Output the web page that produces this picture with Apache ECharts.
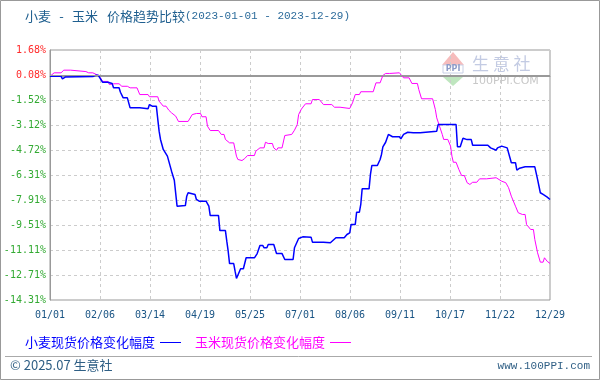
<!DOCTYPE html>
<html>
<head>
<meta charset="utf-8">
<script src="https://cdn.jsdelivr.net/npm/echarts@6/dist/echarts.min.js"></script>
<style>
html,body{margin:0;padding:0;background:#fff;}
#chart{width:600px;height:380px;}
</style>
</head>
<body>
<div id="chart"></div>
<script>
// x: day offset from 2023-01-01, y: price change (%)
const xTickLabels = ['01/01','02/06','03/14','04/19','05/25','07/01','08/06','09/11','10/17','11/22','12/29'];
const yTickValues = [1.68, 0.08, -1.52, -3.12, -4.72, -6.31, -7.91, -9.51, -11.11, -12.71, -14.31];
const seriesNames = ['小麦现货价格变化幅度', '玉米现货价格变化幅度'];

const wheat = [
  [0,0.00],[8,0.00],[9,-0.16],[11,-0.05],[31,-0.02],[33,0.06],[35,0.06],[38,-0.38],[42,-0.38],
  [43,-0.46],[45,-0.46],[46,-0.74],[50,-0.74],[51,-1.02],[52,-1.02],[53,-1.38],[56,-1.38],
  [58,-2.02],[65,-2.02],[66,-2.08],[71,-2.08],[72,-1.81],[73,-1.87],[74,-1.91],[77,-1.91],
  [78,-2.72],[79,-3.51],[80,-4.04],[81,-4.36],[82,-4.68],[83,-4.75],[85,-5.11],[86,-5.43],
  [87,-5.53],[88,-6.07],[90,-6.65],[91,-6.70],[92,-8.31],[98,-8.27],[99,-7.67],[100,-7.45],
  [101,-7.56],[105,-7.56],[106,-7.88],[108,-7.99],[113,-7.99],[115,-8.31],[116,-8.91],[122,-8.91],
  [123,-9.87],[127,-9.87],[128,-10.55],[129,-11.19],[130,-11.98],[133,-11.98],[134,-12.47],
  [135,-12.93],[136,-12.83],[138,-12.31],[140,-12.31],[142,-11.61],[148,-11.61],[150,-11.34],
  [152,-10.82],[154,-10.82],[155,-10.97],[157,-10.97],[158,-10.76],[162,-10.76],[164,-11.34],
  [168,-11.34],[170,-11.72],[176,-11.72],[177,-10.97],[180,-10.38],[183,-10.27],[189,-10.29],
  [190,-10.61],[198,-10.61],[203,-10.65],[207,-10.33],[213,-10.33],[215,-10.12],[217,-10.01],
  [218,-9.48],[221,-9.48],[222,-8.69],[224,-8.69],[225,-8.20],[226,-7.20],[231,-7.20],
  [232,-6.28],[233,-5.71],[237,-5.71],[239,-5.32],[240,-5.00],[241,-4.51],[243,-4.22],
  [245,-3.72],[246,-3.68],[248,-3.87],[253,-3.87],[254,-4.00],[256,-3.72],[259,-3.58],
  [263,-3.62],[268,-3.62],[269,-3.55],[280,-3.51],[281,-3.09],[294,-3.09],[295,-4.51],
  [297,-4.51],[299,-3.96],[302,-4.05],[305,-4.05],[306,-4.41],[317,-4.41],[319,-4.58],
  [323,-4.73],[324,-4.58],[327,-4.47],[331,-4.58],[333,-5.21],[334,-5.53],[337,-5.53],
  [338,-6.01],[340,-5.88],[344,-5.79],[351,-5.79],[353,-6.60],[355,-7.45],[357,-7.56],
  [360,-7.73],[362,-7.88]
];

const corn = [
  [0,0.00],[3,0.22],[8,0.22],[10,0.39],[15,0.39],[16,0.30],[26,0.30],[28,0.22],[31,0.22],
  [32,0.11],[35,0.05],[37,-0.16],[38,-0.33],[42,-0.33],[43,-0.53],[46,-0.48],[50,-0.48],
  [52,-0.64],[56,-0.64],[58,-0.74],[63,-0.74],[65,-1.17],[71,-1.17],[72,-1.31],[78,-1.31],
  [79,-1.59],[82,-1.91],[84,-1.91],[86,-2.17],[88,-2.34],[91,-2.55],[92,-2.72],[93,-2.89],
  [100,-2.89],[103,-2.45],[106,-2.38],[109,-2.38],[110,-2.59],[113,-2.59],[114,-3.19],
  [116,-3.47],[122,-3.47],[124,-3.72],[126,-3.72],[127,-4.04],[130,-4.26],[133,-4.26],
  [135,-5.11],[136,-5.32],[139,-5.39],[141,-5.26],[143,-5.07],[148,-5.07],[149,-4.79],
  [152,-4.58],[155,-4.58],[156,-4.22],[158,-4.30],[161,-4.30],[162,-4.58],[164,-4.73],
  [165,-4.58],[168,-4.58],[170,-3.79],[171,-3.72],[175,-3.72],[177,-3.45],[179,-3.09],
  [180,-2.45],[182,-2.10],[185,-1.76],[189,-1.76],[190,-1.49],[195,-1.49],[198,-1.81],
  [204,-1.81],[206,-1.98],[210,-1.98],[211,-2.06],[217,-2.06],[219,-1.70],[221,-1.17],
  [224,-1.17],[225,-0.99],[234,-0.99],[236,-0.42],[239,-0.42],[241,0.05],[243,0.18],
  [246,0.18],[247,0.22],[253,0.22],[256,-0.10],[260,-0.10],[262,-0.46],[266,-0.46],
  [267,-0.85],[269,-1.44],[277,-1.44],[279,-2.13],[280,-2.66],[282,-3.19],[284,-3.72],
  [285,-4.04],[288,-4.04],[290,-4.47],[291,-5.11],[292,-5.50],[294,-5.50],[296,-5.96],
  [298,-6.35],[300,-6.35],[302,-6.81],[304,-6.92],[306,-6.78],[309,-6.78],[311,-6.56],
  [316,-6.56],[317,-6.49],[323,-6.49],[324,-6.60],[327,-6.71],[330,-6.81],[332,-7.13],
  [334,-7.67],[337,-8.31],[339,-8.73],[342,-8.84],[344,-8.84],[345,-9.48],[348,-9.80],
  [350,-9.80],[351,-10.44],[353,-11.29],[355,-11.89],[357,-11.89],[358,-11.61],[360,-11.84],
  [362,-11.97]
];

const xStep = 36.2;
const chart = echarts.init(document.getElementById('chart'), null, {renderer: 'canvas'});
const monoFont = "'DejaVu Sans Mono', 'Liberation Mono', monospace";
const cjkFont = "'Noto Sans CJK SC', sans-serif";
const titleColor = '#1f5f8f';

chart.setOption({
  animation: false,
  backgroundColor: '#ffffff',
  title: {
    left: 20, top: 2,
    text: '{a|小麦}{s|-}{a|玉米}{g|}{a|价格趋势比较}{b|(2023-01-01 - 2023-12-29)}',
    textStyle: {
      fontWeight: 'normal',
      rich: {
        a: {fontFamily: cjkFont, fontSize: 13, fontWeight: 'normal', color: titleColor},
        s: {fontFamily: cjkFont, fontSize: 13, fontWeight: 'normal', color: titleColor, width: 21, align: 'center'},
        g: {width: 9},
        b: {fontFamily: "'Liberation Mono', monospace", fontSize: 11, fontWeight: 'normal', color: '#2a6a9a'}
      }
    }
  },
  legend: {
    left: 20, top: 331,
    align: 'right',
    itemGap: 14,
    itemWidth: 21, itemHeight: 1,
    icon: 'rect',
    textStyle: {fontFamily: cjkFont, fontSize: 13},
    data: [
      {name: seriesNames[0], textStyle: {color: '#0000ff'}},
      {name: seriesNames[1], textStyle: {color: '#ff00ff'}}
    ]
  },
  grid: {left: 50, right: 50, top: 50, bottom: 80, show: true, borderColor: '#999', borderWidth: 1, containLabel: false},
  xAxis: {
    type: 'value', min: 0, max: 362, interval: xStep,
    axisLine: {show: true, lineStyle: {color: '#999'}},
    axisTick: {show: false},
    splitLine: {show: true, lineStyle: {color: '#ccc', type: [3, 3]}},
    axisLabel: {
      margin: 10, color: '#1a5585', fontFamily: monoFont, fontSize: 10,
      formatter: v => xTickLabels[Math.round(v / xStep)] || ''
    }
  },
  yAxis: {
    type: 'value', min: -14.31, max: 1.68,
    axisLine: {show: true, lineStyle: {color: '#999'}},
    axisTick: {show: false, customValues: yTickValues},
    splitLine: {show: true, lineStyle: {color: '#ccc', type: [3, 3]}},
    axisLabel: {
      customValues: yTickValues,
      margin: 4, fontFamily: monoFont, fontSize: 10,
      formatter: v => v.toFixed(2) + '%',
      color: v => (parseFloat(v) >= 0 ? '#ff2a2a' : '#33aa33')
    }
  },
  graphic: [
    {type: 'rect', shape: {x: 0.5, y: 0.5, width: 599, height: 379}, style: {fill: 'none', stroke: '#999', lineWidth: 1}, silent: true},
    {type: 'line', shape: {x1: 5, y1: 356.5, x2: 592, y2: 356.5}, style: {stroke: '#aaa', lineWidth: 1}, silent: true},
    {type: 'text', left: 10, top: 359, style: {text: '© 2025.07 生意社', font: "13px 'Noto Sans CJK SC', sans-serif", fill: '#2f5f85'}, silent: true},
    {type: 'text', right: 10, top: 361, style: {text: 'www.100PPI.com', font: "11px 'Liberation Mono', monospace", fill: '#2f5f85'}, silent: true},
    {type: 'polygon', shape: {points: [[442, 65], [453, 52], [464, 65]]}, style: {fill: '#f6bcbc'}, z: -1, silent: true},
    {type: 'rect', shape: {x: 443, y: 65, width: 20, height: 8}, style: {fill: '#ffffff', stroke: '#c8d0e6', lineWidth: 1}, z: -1, silent: true},
    {type: 'text', x: 453, y: 69, style: {text: 'PPI', font: "bold 8px 'DejaVu Sans', sans-serif", fill: '#8e9cc8', align: 'center', verticalAlign: 'middle'}, z: -1, silent: true},
    {type: 'polygon', shape: {points: [[443, 77], [463, 77], [453, 86]]}, style: {fill: '#bfe6bf'}, z: -1, silent: true},
    {type: 'text', x: 472, y: 64, style: {text: '生 意 社', font: "17px 'Noto Sans CJK SC', sans-serif", fill: '#c3cbe3', verticalAlign: 'middle'}, z: -1, silent: true},
    {type: 'text', x: 472, y: 81, style: {text: '100PPI.COM', font: "11px 'DejaVu Sans', sans-serif", fill: '#c8c8c8', verticalAlign: 'middle'}, z: -1, silent: true}
  ],
  series: [
    {
      name: seriesNames[0], type: 'line', data: wheat, showSymbol: false, symbol: 'none',
      color: '#0000ff', lineStyle: {color: '#0000ff', width: 1.5}, z: 4
    },
    {
      name: seriesNames[1], type: 'line', data: corn, showSymbol: false, symbol: 'none',
      color: '#ff00ff', lineStyle: {color: '#ff00ff', width: 1}, z: 3,
      markLine: {
        silent: true, symbol: 'none', label: {show: false},
        lineStyle: {color: '#999', type: 'solid', width: 1},
        data: [{yAxis: yTickValues[1]}]
      }
    }
  ]
});
</script>
</body>
</html>
